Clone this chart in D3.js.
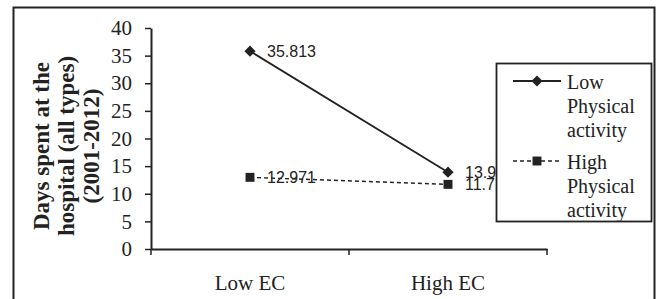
<!DOCTYPE html>
<html>
<head>
<meta charset="utf-8">
<script src="https://cdn.jsdelivr.net/npm/d3@7"></script>
<style>
  body { margin: 0; background: #fff; }
  svg { display: block; }
</style>
</head>
<body>
<svg></svg>
<script>
const width = 663;
const height = 299;
const svg = d3.select("svg").attr("width", width).attr("height", height);

// data
const categories = ["Low EC", "High EC"];
const seriesNames = ["Low Physical activity", "High Physical activity"];
const lowPA = [35.813, 13.9];
const highPA = [12.971, 11.7];
const lowPALabels = ["35.813", "13.9"];
const highPALabels = ["12.971", "11.7"];
const yTicks = [0, 5, 10, 15, 20, 25, 30, 35, 40];

const ink = "#222";
const serif = "'Liberation Serif', 'Times New Roman', serif";

// outer frame
svg.append("rect")
  .attr("x", 13.5).attr("y", 7.5)
  .attr("width", 641).attr("height", 300)
  .attr("fill", "none")
  .attr("stroke", ink)
  .attr("stroke-width", 2);

const x = d3.scaleBand().domain(categories).range([151, 547]);
const y = d3.scaleLinear().domain([0, 40]).range([249, 28]);

// y axis
const yAxis = svg.append("g")
  .attr("transform", "translate(151,0)")
  .call(d3.axisLeft(y).tickValues(yTicks).tickSize(6).tickSizeOuter(0));
yAxis.select(".domain").attr("stroke", ink).attr("stroke-width", 2);
yAxis.selectAll(".tick line").attr("stroke", ink).attr("stroke-width", 1.5);
yAxis.selectAll(".tick text")
  .attr("x", -19)
  .attr("fill", ink)
  .style("font-family", serif)
  .style("font-size", "21px");

// x axis
const xAxis = svg.append("g")
  .attr("transform", "translate(0,249)")
  .call(d3.axisBottom(x).tickSize(0).tickSizeOuter(0));
xAxis.select(".domain").attr("stroke", ink).attr("stroke-width", 2);
xAxis.selectAll(".tick text")
  .attr("y", 41)
  .attr("dy", 0)
  .attr("fill", ink)
  .style("font-family", serif)
  .style("font-size", "21px");
// boundary ticks between categories
const bounds = [x.range()[0], x(categories[1]), x.range()[1]];
svg.append("g").selectAll("line")
  .data(bounds)
  .join("line")
  .attr("x1", d => d).attr("x2", d => d)
  .attr("y1", 249).attr("y2", 255)
  .attr("stroke", ink)
  .attr("stroke-width", 1.5);

// y axis title
const titleLines = ["Days spent at the", "hospital (all types)", "(2001-2012)"];
svg.append("text")
  .attr("transform", "translate(49,146) rotate(-90)")
  .attr("text-anchor", "middle")
  .attr("fill", ink)
  .style("font-family", serif)
  .style("font-size", "23px")
  .style("font-weight", "bold")
  .selectAll("tspan")
  .data(titleLines)
  .join("tspan")
  .attr("x", 0)
  .attr("dy", (d, i) => i === 0 ? 0 : 25)
  .text(d => d);

const cx = d => x(d) + x.bandwidth() / 2;

// data labels (drawn first, lines overlay them)
const labelFont = "'Liberation Sans', Arial, sans-serif";
function drawLabels(vals, labels) {
  svg.append("g").selectAll("text")
    .data(vals)
    .join("text")
    .attr("x", (d, i) => cx(categories[i]) + 17)
    .attr("y", d => y(d))
    .attr("dy", "0.36em")
    .attr("fill", ink)
    .style("font-family", labelFont)
    .style("font-size", "16px")
    .text((d, i) => labels[i]);
}
drawLabels(lowPA, lowPALabels);
drawLabels(highPA, highPALabels);

const line = d3.line().x((d, i) => cx(categories[i])).y(d => y(d));

svg.append("path")
  .attr("d", line(lowPA))
  .attr("fill", "none")
  .attr("stroke", ink)
  .attr("stroke-width", 1.8);

svg.append("path")
  .attr("d", line(highPA))
  .attr("fill", "none")
  .attr("stroke", ink)
  .attr("stroke-width", 1.4)
  .attr("stroke-dasharray", "4,3");

const diamond = d3.symbol().type(d3.symbolDiamond2).size(80);
const square = d3.symbol().type(d3.symbolSquare).size(80);

svg.append("g").selectAll("path")
  .data(lowPA)
  .join("path")
  .attr("d", diamond)
  .attr("transform", (d, i) => `translate(${cx(categories[i])},${y(d)})`)
  .attr("fill", ink);

svg.append("g").selectAll("path")
  .data(highPA)
  .join("path")
  .attr("d", square)
  .attr("transform", (d, i) => `translate(${cx(categories[i])},${y(d)})`)
  .attr("fill", ink);

// legend
const legend = svg.append("g");
legend.append("rect")
  .attr("x", 496.5).attr("y", 63.5)
  .attr("width", 155).attr("height", 158)
  .attr("fill", "#fff")
  .attr("stroke", ink)
  .attr("stroke-width", 1.8);

const legendItems = [
  { lines: ["Low", "Physical", "activity"], y: 81, dash: null, sym: diamond },
  { lines: ["High", "Physical", "activity"], y: 161, dash: "4,3", sym: square }
];
legendItems.forEach(it => {
  legend.append("line")
    .attr("x1", 513).attr("x2", 561)
    .attr("y1", it.y).attr("y2", it.y)
    .attr("stroke", ink)
    .attr("stroke-width", it.dash ? 1.4 : 1.8)
    .attr("stroke-dasharray", it.dash);
  legend.append("path")
    .attr("d", it.sym)
    .attr("transform", `translate(537,${it.y})`)
    .attr("fill", ink);
  legend.append("text")
    .attr("fill", ink)
    .style("font-family", serif)
    .style("font-size", "20px")
    .selectAll("tspan")
    .data(it.lines)
    .join("tspan")
    .attr("x", 567)
    .attr("y", (d, i) => it.y + 8 + i * 24)
    .text(d => d);
});
</script>
</body>
</html>
